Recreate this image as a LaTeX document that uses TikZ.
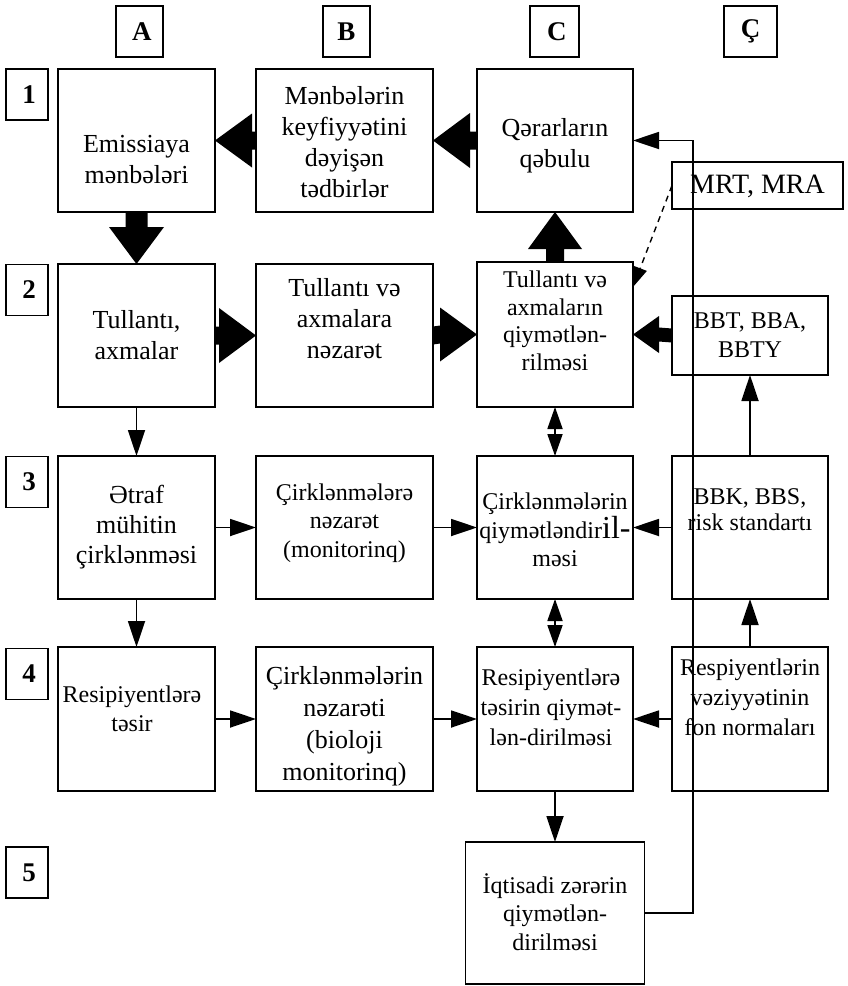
\documentclass[tikz,border=0pt]{standalone}
\usepackage{fontspec}
\setmainfont{Liberation Serif}
\usetikzlibrary{calc,arrows.meta}

% horizontal block arrow: tail, tip, shaft half-width, head half-width, signed head length
\newcommand\fatH[5]{%
  \fill ($(#1)+(0,-#3)$) -- ($(#2)+(-#5,-#3)$) -- ($(#2)+(-#5,-#4)$) -- (#2)
        -- ($(#2)+(-#5,#4)$) -- ($(#2)+(-#5,#3)$) -- ($(#1)+(0,#3)$) -- cycle;}
% vertical block arrow: tail, tip, shaft half-width, head half-width, signed head length
\newcommand\fatV[5]{%
  \fill ($(#1)+(-#3,0)$) -- ($(#2)+(-#3,-#5)$) -- ($(#2)+(-#4,-#5)$) -- (#2)
        -- ($(#2)+(#4,-#5)$) -- ($(#2)+(#3,-#5)$) -- ($(#1)+(#3,0)$) -- cycle;}

\tikzset{
  box/.style={draw, line width=1.9pt, rectangle, inner sep=0pt, outer sep=0pt},
  hdr/.style={box, font=\fontsize{27}{31}\selectfont\bfseries},
  txt/.style={align=center, inner sep=0pt, font=\fontsize{26}{31}\selectfont},
  stxt/.style={align=center, inner sep=0pt, font=\fontsize{24}{28.5}\selectfont},
  arr/.style={line width=1.8pt, -{Triangle[length=26pt,width=17pt]}},
  darr/.style={line width=1.8pt, {Triangle[length=22pt,width=15pt]}-{Triangle[length=22pt,width=15pt]}},
}

\begin{document}
\begin{tikzpicture}[x=1pt,y=-1pt]
\useasboundingbox (0,0) rectangle (847,986);

% column headers
\node[hdr, minimum width=47pt, minimum height=51pt] (hA) at (139.5,31.5) {\,A};
\node[hdr, minimum width=47pt, minimum height=51pt] (hB) at (346.5,31.5) {B};
\node[hdr, minimum width=49pt, minimum height=51pt] (hC) at (554.5,31.5) {\,C};
\node[hdr, minimum width=53pt, minimum height=51pt] (hD) at (750.5,31.5) {Ç};

% row headers
\node[hdr, minimum width=42pt, minimum height=51pt] (r1) at (27,94.5) {\,1};
\node[hdr, minimum width=42pt, minimum height=51pt] (r2) at (27,290) {\,2};
\node[hdr, minimum width=42pt, minimum height=51pt] (r3) at (27,482) {\,3};
\node[hdr, minimum width=42pt, minimum height=51pt] (r4) at (27,674) {\,4};
\node[hdr, minimum width=42pt, minimum height=51pt] (r5) at (27,872.5) {\,5};

% row 1
\node[box, minimum width=157pt, minimum height=143pt] (A1) at (136.5,140.5) {};
\node[box, minimum width=177pt, minimum height=143pt] (B1) at (344.5,140.5) {};
\node[box, minimum width=156pt, minimum height=143pt] (C1) at (555,140.5) {};
\node[box, minimum width=171pt, minimum height=47pt] (MRT) at (757.5,185.5) {};
\node[txt] (tA1) at (136.5,160) {Emissiaya\\mənbələri};
\node[txt] (tB1) at (344.5,142) {Mənbələrin\\keyfiyyətini\\dəyişən\\tədbirlər};
\node[txt] (tC1) at (555,146) {Qərarların\\qəbulu};
\node[align=center, inner sep=0pt, font=\fontsize{28}{32}\selectfont] (tMRT) at (757.5,186) {MRT, MRA};

% row 2
\node[box, minimum width=157pt, minimum height=143pt] (A2) at (136.5,335.5) {};
\node[box, minimum width=177pt, minimum height=143pt] (B2) at (344.5,335.5) {};
\node[box, minimum width=156pt, minimum height=145pt] (C2) at (555,334.5) {};
\node[box, minimum width=156pt, minimum height=79pt] (D2) at (750,335.5) {};
\node[txt] (tA2) at (136.5,335) {Tullantı,\\axmalar};
\node[txt] (tB2) at (344.5,319) {Tullantı və\\axmalara\\nəzarət};
\node[stxt, font=\fontsize{24}{27.5}\selectfont] (tC2) at (555,321) {Tullantı və\\axmaların\\qiymətlən-\\rilməsi};
\node[stxt] (tD2) at (750,335) {BBT, BBA,\\BBTY};

% row 3
\node[box, minimum width=157pt, minimum height=143pt] (A3) at (136.5,527.5) {};
\node[box, minimum width=177pt, minimum height=143pt] (B3) at (344.5,527.5) {};
\node[box, minimum width=156pt, minimum height=143pt] (C3) at (555,527.5) {};
\node[box, minimum width=156pt, minimum height=143pt] (D3) at (750,527.5) {};
\node[txt, font=\fontsize{26}{30}\selectfont] (tA3) at (136.5,527) {Ətraf\\mühitin\\çirklənməsi};
\node[stxt] (tB3) at (344.5,523) {Çirklənmələrə\\nəzarət\\(monitorinq)};
\node[stxt] (tC3) at (555,530) {Çirklənmələrin\\qiymətləndir{\fontsize{32}{32}\selectfont il-}\\məsi};
\node[stxt, font=\fontsize{24}{26}\selectfont] (tD3) at (750,510) {BBK, BBS,\\risk standartı};

% row 4
\node[box, minimum width=157pt, minimum height=144pt] (A4) at (136.5,719) {};
\node[box, minimum width=177pt, minimum height=144pt] (B4) at (344.5,719) {};
\node[box, minimum width=156pt, minimum height=144pt] (C4) at (555,719) {};
\node[box, minimum width=156pt, minimum height=144pt] (D4) at (750,719) {};
\node[stxt] (tA4) at (132,709) {Resipiyentlərə\\təsir};
\node[txt, font=\fontsize{26}{32}\selectfont] (tB4) at (344.5,726) {Çirklənmələrin\\nəzarəti\\(bioloji\\monitorinq)};
\node[stxt, font=\fontsize{24}{30}\selectfont] (tC4) at (551,707) {Resipiyentlərə\\təsirin qiymət-\\lən-dirilməsi};
\node[stxt, font=\fontsize{24}{30}\selectfont] (tD4) at (750,697) {Respiyentlərin\\vəziyyətinin\\fon normaları};

% row 5
\node[box, minimum width=179pt, minimum height=142pt] (C5) at (555,913) {};
\node[stxt] (tC5) at (555,912) {İqtisadi zərərin\\qiymətlən-\\dirilməsi};

% block arrows
\fatH{B1.west}{A1.east}{9}{27}{-37}
\fatH{C1.west}{B1.east}{9}{27.5}{-37}
\fatV{A1.south}{A2.north}{11}{27.5}{37}
\fatH{A2.east}{B2.west}{9}{27.5}{37}
\fatH{B2.east}{C2.west}{9}{27}{37}
\fatH{D2.west}{C2.east}{7}{18.5}{-26}
\fatV{C2.north}{C1.south}{9}{27}{-37}

% thin connectors
\draw[arr] (A2.south) -- (A3.north);
\draw[arr] (A3.south) -- (A4.north);
\draw[arr] (A3.east) -- (B3.west);
\draw[arr] (B3.east) -- (C3.west);
\draw[arr] (D3.west) -- (C3.east);
\draw[arr] (A4.east) -- (B4.west);
\draw[arr] (B4.east) -- (C4.west);
\draw[arr] (D4.west) -- (C4.east);
\draw[arr] (C4.south) -- (C5.north);
\draw[arr] (D4.north) -- (D3.south);
\draw[arr] (D3.north) -- (D2.south);
\draw[darr] (C2.south) -- (C3.north);
\draw[darr] (C3.south) -- (C4.north);

% feedback from economic damage back to decisions
\coordinate (fb) at (693,140.5);
\draw[arr] (C5.east) -| (fb) -- (C1.east);

% dashed link from MRT, MRA
\coordinate (c2in) at ($(C2.north east)+(0,25)$);
\draw[line width=1.4pt, dash pattern=on 6pt off 5pt, -{Triangle[length=20pt,width=14pt]}] (MRT.west) -- (c2in);
\end{tikzpicture}
\end{document}
